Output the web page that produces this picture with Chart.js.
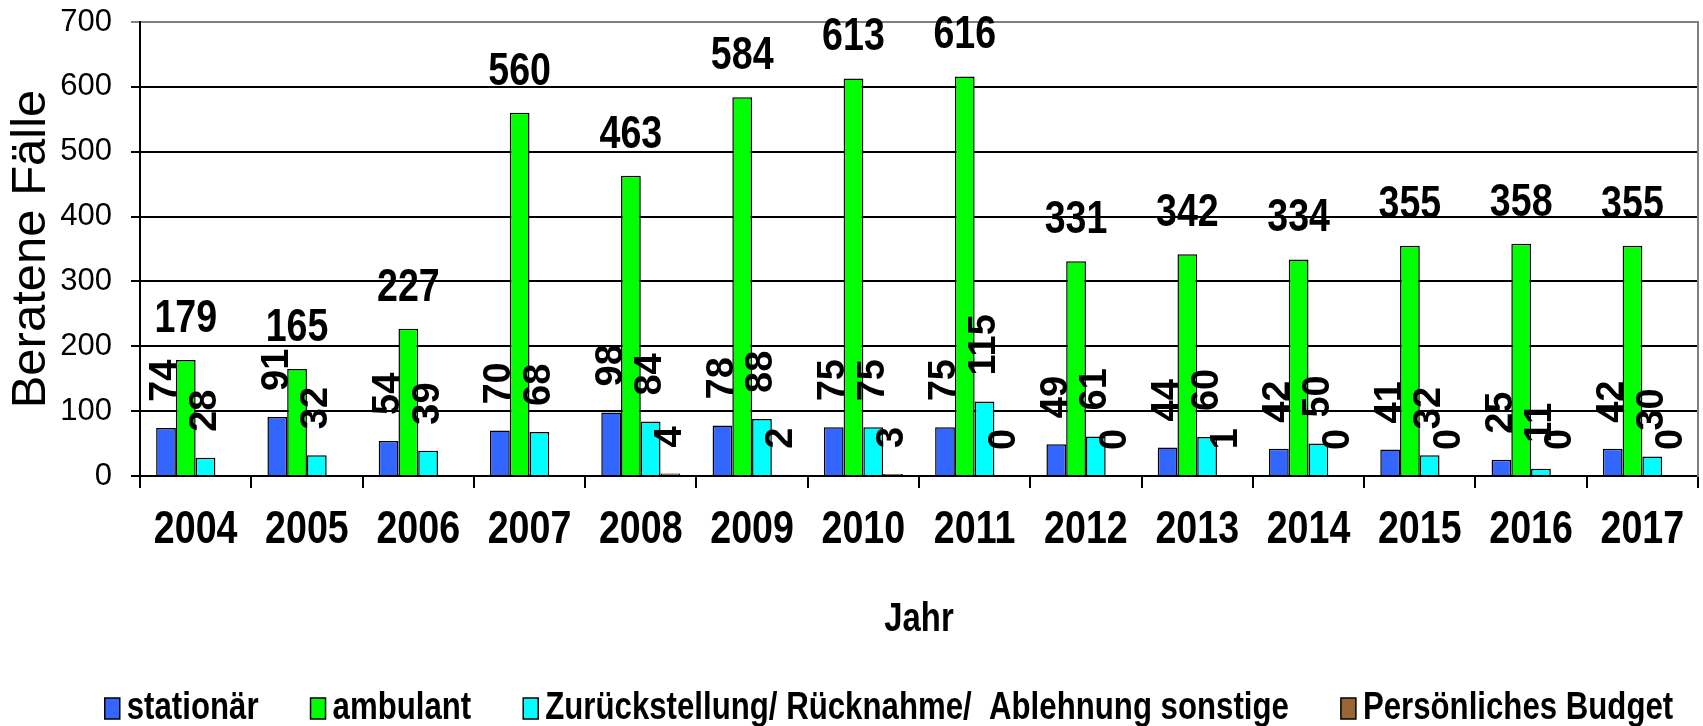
<!DOCTYPE html>
<html>
<head>
<meta charset="utf-8">
<script src="https://cdn.jsdelivr.net/npm/chart.js@4"></script>
<style>
  html, body { margin: 0; padding: 0; background: #fff; }
  #wrap { width: 1703px; height: 726px; }
</style>
</head>
<body>
<div id="wrap"><canvas id="chart-faelle"></canvas></div>
<script>
// Data
const years = ["2004", "2005", "2006", "2007", "2008", "2009", "2010", "2011", "2012", "2013", "2014", "2015", "2016", "2017"];
const stationaer = [74, 91, 54, 70, 98, 78, 75, 75, 49, 44, 42, 41, 25, 42];
const ambulant = [179, 165, 227, 560, 463, 584, 613, 616, 331, 342, 334, 355, 358, 355];
const zurueckstellung = [28, 32, 39, 68, 84, 88, 75, 115, 61, 60, 50, 32, 11, 30];
const budget = [null, null, null, null, 4, 2, 3, 0, 0, 1, 0, 0, 0, 0];
const yTicks = [0, 100, 200, 300, 400, 500, 600, 700];

const SANS = "'Liberation Sans', Arial, sans-serif";
const SQUEEZE = 0.8; // bold texts in the original are horizontally narrow

function squeezeText(ctx, text, x, y) {
  ctx.save();
  ctx.translate(x, y);
  ctx.scale(SQUEEZE, 1);
  ctx.fillText(text, 0, 0);
  ctx.restore();
}

// value labels: ambulant upright above the bar, the others turned
const valueLabels = {
  id: "valueLabels",
  afterDatasetsDraw(chart) {
    const ctx = chart.ctx;
    ctx.save();
    ctx.fillStyle = "#000";
    chart.data.datasets.forEach((ds, i) => {
      const meta = chart.getDatasetMeta(i);
      meta.data.forEach((bar, j) => {
        const v = ds.data[j];
        if (v === null || v === undefined) return;
        if (i === 1) {
          ctx.font = "bold 47px " + SANS;
          ctx.textAlign = "center";
          ctx.textBaseline = "alphabetic";
          squeezeText(ctx, String(v), bar.x, bar.y - 28);
        } else {
          ctx.save();
          ctx.translate(bar.x, bar.y - 26);
          ctx.rotate(-Math.PI / 2);
          ctx.font = "bold 38px " + SANS;
          ctx.textAlign = "left";
          ctx.textBaseline = "middle";
          ctx.fillText(String(v), 0, 0);
          ctx.restore();
        }
      });
    });
    ctx.restore();
  },
};

// year labels and axis title under the x axis, narrow bold
const xLabels = {
  id: "xLabels",
  afterDraw(chart) {
    const ctx = chart.ctx;
    const xs = chart.scales.x;
    ctx.save();
    ctx.fillStyle = "#000";
    ctx.textAlign = "center";
    ctx.textBaseline = "middle";
    ctx.font = "bold 47px " + SANS;
    xs.ticks.forEach((t, i) => {
      squeezeText(ctx, xs.getLabelForValue(t.value), xs.getPixelForTick(i), xs.top + 54);
    });
    ctx.font = "bold 41px " + SANS;
    squeezeText(ctx, "Jahr", (chart.chartArea.left + chart.chartArea.right) / 2, xs.top + 144);
    ctx.restore();
  },
};

// legend along the bottom, small boxes close to the text
const bottomLegend = {
  id: "bottomLegend",
  afterDraw(chart) {
    const ctx = chart.ctx;
    const ds = chart.data.datasets;
    const boxW = 15, boxH = 21, boxGap = 7, itemGap = 52;
    const baseline = 719;
    ctx.save();
    ctx.font = "bold 39px " + SANS;
    const widths = ds.map((d) => boxW + boxGap + ctx.measureText(d.label).width * SQUEEZE);
    const total = widths.reduce((a, b) => a + b, 0) + itemGap * (ds.length - 1);
    let x = 889 - total / 2;
    ds.forEach((d, i) => {
      ctx.fillStyle = d.backgroundColor;
      ctx.fillRect(x, baseline - boxH, boxW, boxH);
      ctx.strokeStyle = "#000";
      ctx.lineWidth = 1.5;
      ctx.strokeRect(x, baseline - boxH, boxW, boxH);
      ctx.fillStyle = "#000";
      ctx.textAlign = "left";
      ctx.textBaseline = "alphabetic";
      squeezeText(ctx, d.label, x + boxW + boxGap, baseline);
      x += widths[i] + itemGap;
    });
    ctx.restore();
  },
};

new Chart(document.getElementById("chart-faelle"), {
  type: "bar",
  data: {
    labels: years,
    datasets: [
      {
        label: "stationär",
        data: stationaer,
        backgroundColor: "#3366FF",
        borderColor: "#000",
        borderWidth: 1.5,
      },
      {
        label: "ambulant",
        data: ambulant,
        backgroundColor: "#00FF00",
        borderColor: "#000",
        borderWidth: 1.5,
      },
      {
        label: "Zurückstellung/ Rücknahme/  Ablehnung sonstige",
        data: zurueckstellung,
        backgroundColor: "#00FFFF",
        borderColor: "#000",
        borderWidth: 1.5,
      },
      {
        label: "Persönliches Budget",
        data: budget,
        backgroundColor: "#996633",
        borderColor: "#000",
        borderWidth: 1.5,
      },
    ],
  },
  options: {
    responsive: true,
    maintainAspectRatio: false,
    animation: false,
    datasets: {
      bar: { categoryPercentage: 0.71, barPercentage: 1.0 },
    },
    layout: { padding: { top: 22, right: 4, bottom: 0, left: 0 } },
    plugins: {
      legend: { display: false },
      tooltip: { enabled: false },
    },
    scales: {
      x: {
        offset: true,
        grid: {
          offset: true,
          drawOnChartArea: false,
          drawTicks: true,
          tickLength: 12,
          color: "#000",
          lineWidth: 2,
        },
        border: { color: "#000", width: 2 },
        ticks: { display: false, autoSkip: false },
        afterFit(scale) {
          scale.height = 250;
        },
      },
      y: {
        min: 0,
        max: 700,
        afterBuildTicks(scale) {
          scale.ticks = yTicks.map((v) => ({ value: v }));
        },
        grid: {
          color: (c) => (c.tick && c.tick.value === 700 ? "#808080" : "#000"),
          lineWidth: 2,
          tickLength: 9,
        },
        border: { color: "#000", width: 2 },
        ticks: {
          color: "#000",
          font: { family: SANS, size: 31 },
          padding: 19,
        },
        title: {
          display: true,
          text: "Beratene Fälle",
          color: "#000",
          font: { family: SANS, size: 49 },
          padding: { top: 2, bottom: 0 },
        },
        afterFit(scale) {
          scale.width = 140;
          scale.paddingTop = 0;
          scale.paddingBottom = 0;
        },
      },
      yRight: {
        position: "right",
        min: 0,
        max: 700,
        grid: { drawOnChartArea: false, drawTicks: false },
        border: { color: "#808080", width: 2 },
        ticks: { display: false },
        afterFit(scale) {
          scale.width = 1;
          scale.paddingTop = 0;
          scale.paddingBottom = 0;
        },
      },
    },
  },
  plugins: [valueLabels, xLabels, bottomLegend],
});
</script>
</body>
</html>
